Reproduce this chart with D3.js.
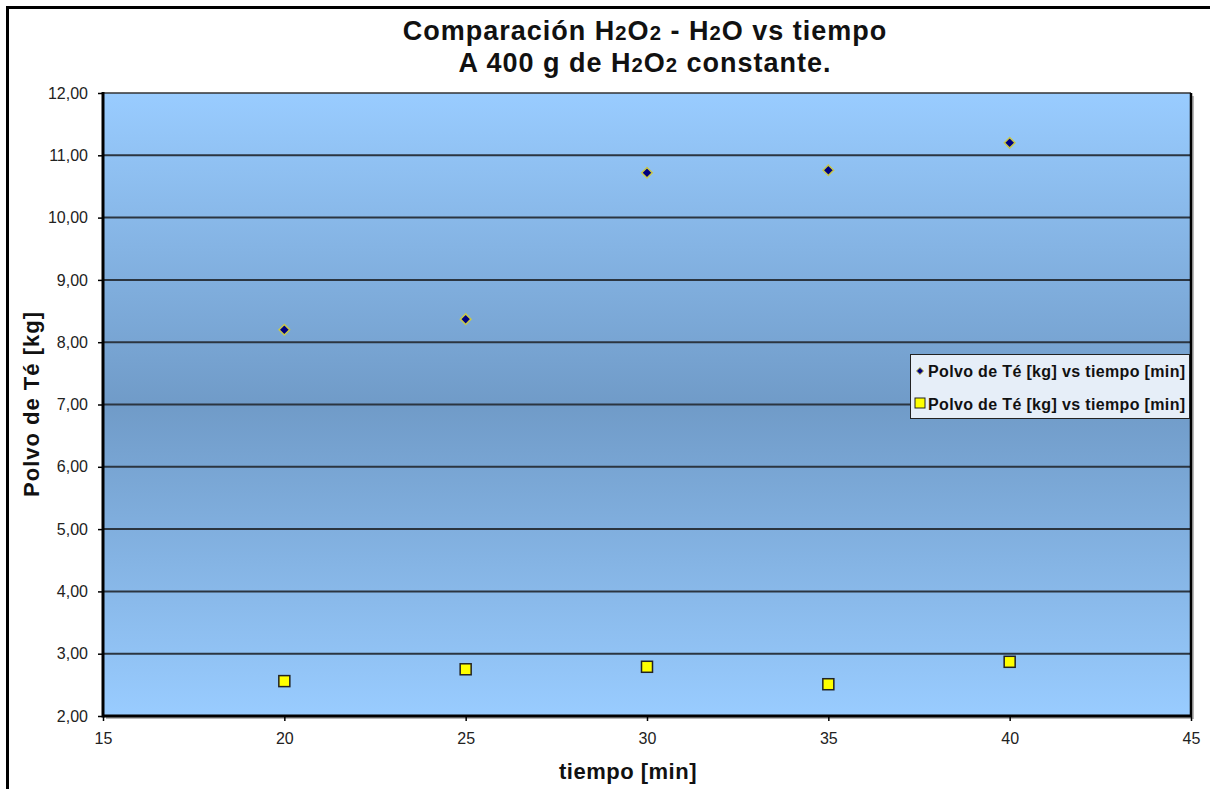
<!DOCTYPE html>
<html><head><meta charset="utf-8">
<script src="https://cdn.jsdelivr.net/npm/d3@7/dist/d3.min.js"></script>
<style>body{margin:0;background:#fff}svg{display:block;font-family:"Liberation Sans",Arial,sans-serif}</style>
</head><body><svg id="c" width="1210" height="789"></svg>
<script>
const xTicks = [15,20,25,30,35,40,45];
const yTicks = [2,3,4,5,6,7,8,9,10,11,12];
const tiempo = [20,25,30,35,40];
const serieDiamante = [8.20,8.37,10.72,10.76,11.20];
const serieCuadrado = [2.56,2.75,2.79,2.51,2.87];
const legendLabels = ["Polvo de Té [kg] vs tiempo [min]","Polvo de Té [kg] vs tiempo [min]"];

const svg = d3.select("#c");
const L=103, R=1191, T=93, B=716;
const x = d3.scaleLinear().domain([15,45]).range([L,R]);
const y = d3.scaleLinear().domain([2,12]).range([B,T]);

const squareDiamond = { draw(ctx, size){ const r=Math.sqrt(size/2); ctx.moveTo(0,-r); ctx.lineTo(r,0); ctx.lineTo(0,r); ctx.lineTo(-r,0); ctx.closePath(); } };

// outer border
svg.append("rect").attr("x",7.5).attr("y",7.5).attr("width",1220).attr("height",800)
  .attr("fill","#fff").attr("stroke","#000").attr("stroke-width",3);

// gradient
const defs = svg.append("defs");
const g = defs.append("linearGradient").attr("id","bg").attr("x1",0).attr("y1",0).attr("x2",0).attr("y2",1);
g.append("stop").attr("offset","0%").attr("stop-color","#99CCFF");
g.append("stop").attr("offset","50%").attr("stop-color","#709BC8");
g.append("stop").attr("offset","100%").attr("stop-color","#99CCFF");

// shadow
svg.append("rect").attr("x",L+3).attr("y",T+3).attr("width",R-L).attr("height",B-T).attr("fill","#b8b8b8");
svg.append("rect").attr("x",L).attr("y",T).attr("width",R-L).attr("height",B-T).attr("fill","url(#bg)");

// gridlines
svg.append("g").selectAll("line").data(yTicks.slice(1,-1)).join("line")
  .attr("x1",L).attr("x2",R).attr("y1",d=>y(d)).attr("y2",d=>y(d))
  .attr("stroke","#2b3540").attr("stroke-width",2);

// plot border
svg.append("line").attr("x1",L).attr("x2",R).attr("y1",T).attr("y2",T).attr("stroke","#333").attr("stroke-width",1.5);
svg.append("line").attr("x1",R).attr("x2",R).attr("y1",T).attr("y2",B).attr("stroke","#000").attr("stroke-width",2.5);
svg.append("line").attr("x1",L).attr("x2",L).attr("y1",T-1).attr("y2",B+1.5).attr("stroke","#000").attr("stroke-width",3);
svg.append("line").attr("x1",L).attr("x2",R+1).attr("y1",B).attr("y2",B).attr("stroke","#000").attr("stroke-width",3);

// axes
const yAxis = d3.axisLeft(y).tickValues(yTicks).tickSize(5).tickPadding(10)
  .tickFormat(d=>d3.format(".2f")(d).replace(".",","));
const ya = svg.append("g").attr("transform",`translate(${L},0)`).call(yAxis);
ya.select(".domain").remove();
ya.selectAll("line").attr("stroke","#000").attr("stroke-width",1.5);
ya.selectAll("text").attr("font-size",16).attr("fill","#222").attr("font-family","\"Liberation Sans\",Arial");

const xAxis = d3.axisBottom(x).tickValues(xTicks).tickSize(5).tickPadding(12).tickFormat(d3.format("d"));
const xa = svg.append("g").attr("transform",`translate(0,${B})`).call(xAxis);
xa.select(".domain").remove();
xa.selectAll("line").attr("stroke","#000").attr("stroke-width",1.5);
xa.selectAll("text").attr("font-size",16).attr("fill","#222").attr("font-family","\"Liberation Sans\",Arial");

// points
svg.append("g").selectAll("path").data(tiempo).join("path")
  .attr("d",d3.symbol().type(squareDiamond).size(56)).attr("transform",(d,i)=>`translate(${x(d)},${y(serieDiamante[i])})`)
  .attr("fill","#000080").attr("stroke","#c8c84a").attr("stroke-width",1.5);
svg.append("g").selectAll("rect").data(tiempo).join("rect")
  .attr("x",d=>x(d)-5.5).attr("y",(d,i)=>y(serieCuadrado[i])-5.5).attr("width",11).attr("height",11)
  .attr("fill","#FFFF00").attr("stroke","#222").attr("stroke-width",1.5);

// legend
const lg = svg.append("g");
lg.append("rect").attr("x",910.5).attr("y",354.5).attr("width",279).attr("height",64)
  .attr("fill","#E6EEF8").attr("stroke","#222").attr("stroke-width",1);
lg.append("path").attr("d",d3.symbol().type(squareDiamond).size(26)())
  .attr("transform","translate(920,371)").attr("fill","#000080").attr("stroke","#c8c84a").attr("stroke-width",1);
lg.append("rect").attr("x",915).attr("y",398).attr("width",10).attr("height",10)
  .attr("fill","#FFFF00").attr("stroke","#222").attr("stroke-width",1);
lg.selectAll("text").data(legendLabels).join("text")
  .attr("x",928).attr("y",(d,i)=>377+i*33).attr("font-size",16).attr("font-weight","bold")
  .attr("letter-spacing",0.35).attr("fill","#111").text(d=>d);

// title
function chem(sel, parts, fs){
  parts.forEach(p=>{
    const t = sel.append("tspan").text(p[0]);
    if(p[1]) t.attr("font-size",fs*0.75);
  });
}
const t1 = svg.append("text").attr("x",645).attr("y",40).attr("text-anchor","middle")
  .attr("font-size",27).attr("font-weight","bold").attr("letter-spacing",1).attr("fill","#111");
chem(t1,[["Comparación H"],["2",1],["O"],["2",1],[" - H"],["2",1],["O vs tiempo"]],27);
const t2 = svg.append("text").attr("x",645).attr("y",72).attr("text-anchor","middle")
  .attr("font-size",27).attr("font-weight","bold").attr("letter-spacing",1).attr("fill","#111");
chem(t2,[["A 400 g de H"],["2",1],["O"],["2",1],[" constante."]],27);

// axis titles
svg.append("text").attr("transform","translate(39,404) rotate(-90)").attr("text-anchor","middle")
  .attr("font-size",22).attr("font-weight","bold").attr("letter-spacing",1).attr("fill","#111").text("Polvo de Té [kg]");
svg.append("text").attr("x",628).attr("y",779).attr("text-anchor","middle")
  .attr("font-size",22).attr("font-weight","bold").attr("letter-spacing",0.5).attr("fill","#111").text("tiempo [min]");
</script></body></html>
